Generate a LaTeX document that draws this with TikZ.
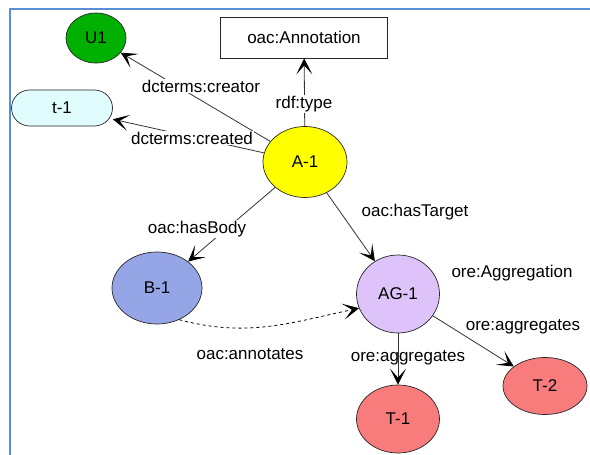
\documentclass[tikz,border=0pt]{standalone}
\usepackage{fontspec}
\setmainfont{Liberation Sans}
\usetikzlibrary{shapes.geometric,arrows.meta}

\definecolor{frameblue}{RGB}{91,143,213}
\definecolor{ugreen}{RGB}{0,176,0}
\definecolor{tcyan}{RGB}{224,252,252}
\definecolor{ayellow}{RGB}{255,255,0}
\definecolor{bblue}{RGB}{150,165,230}
\definecolor{aglilac}{RGB}{222,194,250}
\definecolor{tred}{RGB}{248,124,124}
\newcommand{\lblfont}{\fontsize{17}{20}\selectfont}

\tikzset{
  res/.style={ellipse, draw=black!85, line width=0.7pt, inner sep=0pt, font=\lblfont},
  cls/.style={rectangle, draw=black!85, line width=0.9pt, font=\lblfont},
  rel/.style={draw=black!80, line width=0.8pt, -{Stealth[length=16pt,width=16pt,inset=9pt,black]}},
  lbl/.style={font=\lblfont, inner sep=1pt},
}

\begin{document}
\begin{tikzpicture}[x=1pt, y=-1pt]
  \useasboundingbox (0,0) rectangle (590,455);
  \draw[frameblue, line width=2pt] (10,455) -- (10,9) -- (590,9);

  \node[res, fill=ugreen, minimum width=60pt, minimum height=50pt] (U1) at (96,38) {U1};
  \node[cls, minimum width=167pt, minimum height=41pt] (annot) at (304,37.5) {oac:Annotation};
  \node[cls, line width=0.7pt, rounded corners=18pt, fill=tcyan, minimum width=101pt, minimum height=36pt] (t1) at (62,108) {t-1};
  \node[res, fill=ayellow, minimum width=84pt, minimum height=71pt] (A1) at (305,162) {A-1};
  \node[res, fill=bblue, minimum width=90pt, minimum height=72pt] (B1) at (157,288) {B-1};
  \node[res, fill=aglilac, minimum width=83pt, minimum height=78pt] (AG1) at (398,294) {AG-1};
  \node[res, fill=tred, minimum width=83pt, minimum height=68pt] (T1) at (398,419) {T-1};
  \node[res, fill=tred, minimum width=84pt, minimum height=57pt] (T2) at (545,386) {T-2};

  \draw[rel] (A1) -- (U1);
  \draw[rel] (A1) -- (t1);
  \draw[rel] (A1) -- (annot);
  \draw[rel] (A1) -- (B1);
  \draw[rel] (A1) -- (AG1);
  \draw[rel, dashed, draw=black] (B1.-55) to[out=-15, in=192] (AG1.200);
  \draw[rel] (AG1) -- (T1);
  \draw[rel] (AG1) -- (T2);

  \node[lbl, fill=white] (lcreator) at (201,86) {dcterms:creator};
  \node[lbl, fill=white] (lcreated) at (192,138) {dcterms:created};
  \node[lbl, fill=white] (ltype) at (304,104) {rdf:type};
  \node[lbl, fill=white] (lbody) at (197,229) {oac:hasBody};
  \node[lbl] (ltarget) at (415,212) {oac:hasTarget};
  \node[lbl] (laggr) at (512,273) {ore:Aggregation};
  \node[lbl] (lagg2) at (523,327) {ore:aggregates};
  \node[lbl] (lagg1) at (408,358) {ore:aggregates};
  \node[lbl] (lannot) at (250,354) {oac:annotates};
\end{tikzpicture}
\end{document}
